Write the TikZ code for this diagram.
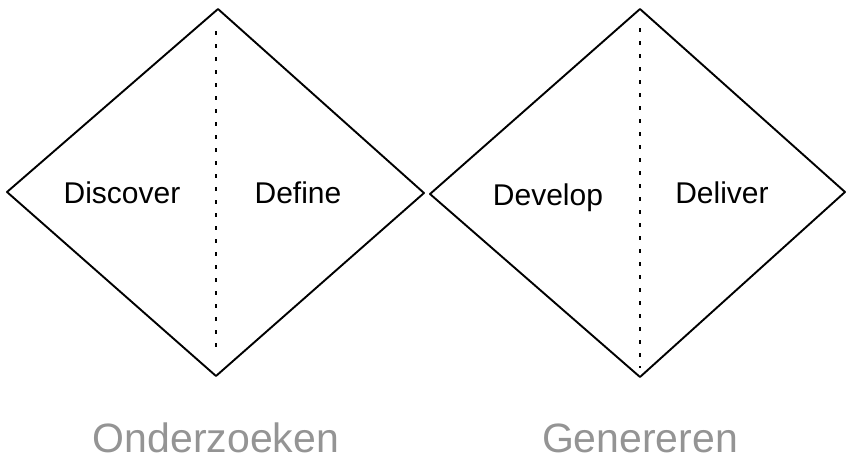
\documentclass[tikz,border=0pt]{standalone}
\usepackage{fontspec}
\setmainfont{Liberation Sans}
\begin{document}
\begin{tikzpicture}[x=1pt,y=-1pt,
  edge/.style={line width=1.9pt,line join=round,line cap=round},
  divider/.style={line width=1.8pt,dash pattern=on 4pt off 9pt},
  phase/.style={font=\fontsize{30}{36}\selectfont,inner sep=0pt,anchor=base},
  stage/.style={font=\fontsize{41}{48}\selectfont,text=black!42,inner sep=0pt,anchor=base}]
\useasboundingbox (0,0) rectangle (846,464);
% first diamond
\coordinate (aT) at (218,9);
\coordinate (aL) at (7,192);
\coordinate (aB) at (216,376);
\coordinate (aR) at (424,193);
\draw[edge] (aT) -- (aR) -- (aB) -- (aL) -- cycle;
\coordinate (aD1) at (216,31);
\coordinate (aD2) at (216,352);
\draw[divider] (aD1) -- (aD2);
% second diamond
\coordinate (bT) at (640,9);
\coordinate (bL) at (430,194);
\coordinate (bB) at (640,377);
\coordinate (bR) at (845,192);
\draw[edge] (bT) -- (bR) -- (bB) -- (bL) -- cycle;
\coordinate (bD1) at (640,28);
\coordinate (bD2) at (640,368);
\draw[divider] (bD1) -- (bD2);
% phase labels
\node[phase] (discover) at (122,203) {Discover};
\node[phase] (define) at (298,203) {Define};
\node[phase] (develop) at (548,205) {Develop};
\node[phase] (deliver) at (722,203) {Deliver};
% stage labels
\node[stage] (onderzoeken) at (216,452) {Onderzoeken};
\node[stage] (genereren) at (640,452) {Genereren};
\end{tikzpicture}
\end{document}
